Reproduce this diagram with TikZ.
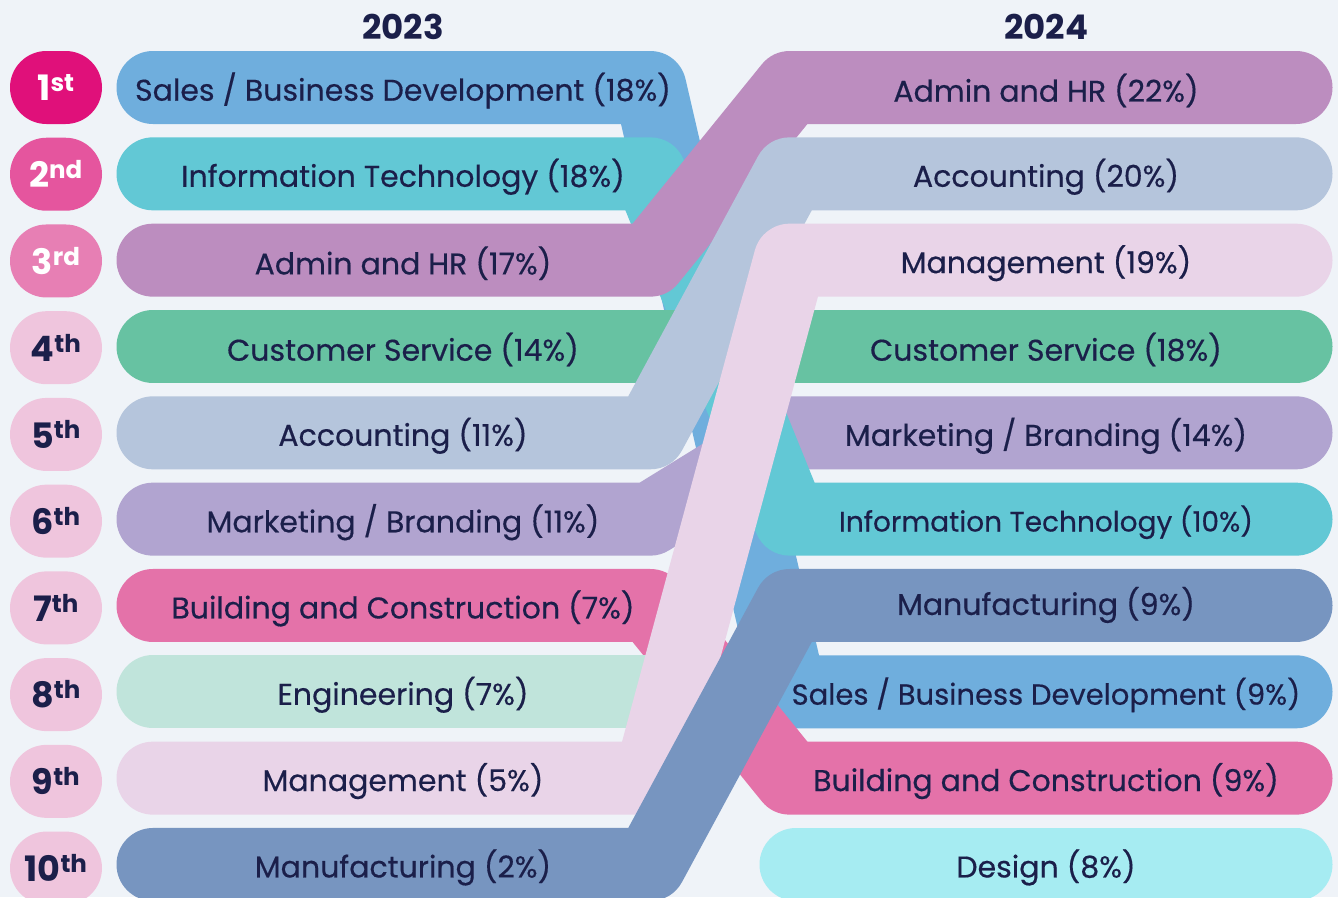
\documentclass[tikz,border=0pt]{standalone}
\usepackage{fontspec}
\setmainfont{Poppins}[FakeBold=0.4]
\newfontfamily\headfont{Poppins}
\usetikzlibrary{positioning}

\definecolor{bg}{HTML}{EFF3F8}
\definecolor{ink}{HTML}{1B1F4A}
\definecolor{sales}{HTML}{6FAEDD}
\definecolor{infotech}{HTML}{62C8D5}
\definecolor{admin}{HTML}{BC8DBF}
\definecolor{custserv}{HTML}{67C2A2}
\definecolor{account}{HTML}{B5C5DC}
\definecolor{market}{HTML}{B1A4D0}
\definecolor{build}{HTML}{E472A9}
\definecolor{engin}{HTML}{C0E4DB}
\definecolor{manage}{HTML}{E9D4E8}
\definecolor{manuf}{HTML}{7795C0}
\definecolor{design}{HTML}{A6ECF2}
\definecolor{rkA}{HTML}{E0107A}
\definecolor{rkB}{HTML}{E5559E}
\definecolor{rkC}{HTML}{E77FB4}
\definecolor{rkD}{HTML}{EFC5DD}

\tikzset{
  band/.style={line width=73pt, line cap=round, line join=round},
  lbl/.style={text=ink, font=\fontsize{30}{34}\selectfont, inner sep=0pt, yshift=-3pt},
  rank/.style={minimum width=92pt, minimum height=73pt, rounded corners=36.5pt,
               inner sep=0pt, font=\headfont\fontsize{35}{38}\selectfont\bfseries},
  year/.style={text=ink, font=\headfont\fontsize{34}{38}\selectfont\bfseries, inner sep=0pt}
}

\newcommand{\rk}[2]{#1\textsuperscript{#2}}

\begin{document}
\begin{tikzpicture}[x=1pt, y=-1pt]

  \useasboundingbox (0,0) rectangle (1338,897);
  \fill [bg] (0,0) rectangle (1338,897);
  \clip (0,0) rectangle (1338,897);

  % row anchors: bar ends and the two bends of every band
  \foreach \i in {1,...,10} {
    \pgfmathsetmacro{\y}{87.5+(\i-1)*86.33}
    \coordinate (L\i)  at (153,\y);
    \coordinate (LV\i) at (650,\y);
    \coordinate (RV\i) at (790,\y);
    \coordinate (RS\i) at (796,\y);
    \coordinate (R\i)  at (1296,\y);
  }

  % bands, back to front
  \foreach \c/\a/\b in {sales/1/8, market/6/5, infotech/2/6, custserv/4/4, build/7/9}
    \draw [band, draw=\c] (L\a) -- (LV\a) -- (RV\b) -- (R\b);
  \draw [band, draw=engin]  (L8) -- (LV8);
  \draw [band, draw=design] (RS10) -- (R10);
  \foreach \c/\a/\b in {admin/3/1, account/5/2, manage/9/3, manuf/10/7}
    \draw [band, draw=\c] (L\a) -- (LV\a) -- (RV\b) -- (R\b);

  % ranks
  \node [rank, fill=rkA, text=white] (rk1) at (56,87.5) {\rk{1}{st}};
  \node [rank, fill=rkB, text=white, below=13.33pt of rk1] (rk2) {\rk{2}{nd}};
  \node [rank, fill=rkC, text=white, below=13.33pt of rk2] (rk3) {\rk{3}{rd}};
  \node [rank, fill=rkD, text=ink, below=13.33pt of rk3] (rk4) {\rk{4}{th}};
  \node [rank, fill=rkD, text=ink, below=13.33pt of rk4] (rk5) {\rk{5}{th}};
  \node [rank, fill=rkD, text=ink, below=13.33pt of rk5] (rk6) {\rk{6}{th}};
  \node [rank, fill=rkD, text=ink, below=13.33pt of rk6] (rk7) {\rk{7}{th}};
  \node [rank, fill=rkD, text=ink, below=13.33pt of rk7] (rk8) {\rk{8}{th}};
  \node [rank, fill=rkD, text=ink, below=13.33pt of rk8] (rk9) {\rk{9}{th}};
  \node [rank, fill=rkD, text=ink, below=13.33pt of rk9] (rk10) {\rk{10}{th}};

  % years
  \node [year] (y23) at (403,27) {2023};
  \node [year] (y24) at (1046,27) {2024};

  % 2023 labels
  \node [lbl] (a1)  at (403,87.5)  {Sales / Business Development (18\%)};
  \node [lbl] (a2)  at (403,173.8) {Information Technology (18\%)};
  \node [lbl] (a3)  at (403,260.2) {Admin and HR (17\%)};
  \node [lbl] (a4)  at (403,346.5) {Customer Service (14\%)};
  \node [lbl] (a5)  at (403,432.8) {Accounting (11\%)};
  \node [lbl] (a6)  at (403,519.2) {Marketing / Branding (11\%)};
  \node [lbl] (a7)  at (403,605.5) {Building and Construction (7\%)};
  \node [lbl] (a8)  at (403,691.8) {Engineering (7\%)};
  \node [lbl] (a9)  at (403,778.1) {Management (5\%)};
  \node [lbl] (a10) at (403,864.5) {Manufacturing (2\%)};

  % 2024 labels
  \node [lbl] (b1)  at (1046,87.5)  {Admin and HR (22\%)};
  \node [lbl] (b2)  at (1046,173.8) {Accounting (20\%)};
  \node [lbl] (b3)  at (1046,260.2) {Management (19\%)};
  \node [lbl] (b4)  at (1046,346.5) {Customer Service (18\%)};
  \node [lbl] (b5)  at (1046,432.8) {Marketing / Branding (14\%)};
  \node [lbl, font=\fontsize{28}{32}\selectfont] (b6) at (1046,519.2) {Information Technology (10\%)};
  \node [lbl] (b7)  at (1046,602)   {Manufacturing (9\%)};
  \node [lbl, font=\fontsize{29}{33}\selectfont] (b8) at (1046,691.8) {Sales / Business Development (9\%)};
  \node [lbl] (b9)  at (1046,778.1) {Building and Construction (9\%)};
  \node [lbl] (b10) at (1046,864.5) {Design (8\%)};

\end{tikzpicture}
\end{document}
